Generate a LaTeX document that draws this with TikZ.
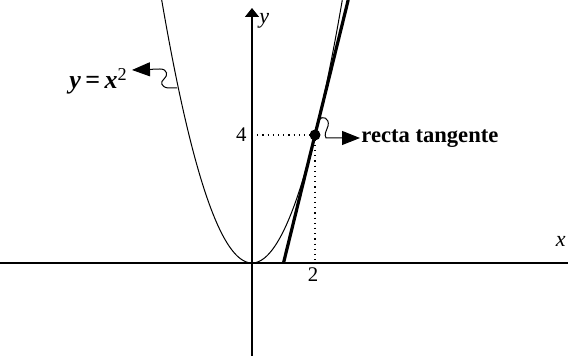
\documentclass[tikz,border=0pt]{standalone}
\usepackage{fontspec}
\setmainfont{Liberation Serif}
\usetikzlibrary{arrows.meta}
\begin{document}
\begin{tikzpicture}[x=0.5pt,y=-0.5pt,
  axisline/.style={line width=0.7pt},
  curveline/.style={line width=0.5pt},
  tangline/.style={line width=1.6pt},
  guide/.style={dotted,line width=0.6pt},
  curl/.style={line width=0.5pt,-{Triangle[length=9pt,width=7pt]}},
  ticklbl/.style={inner sep=0pt,font=\fontsize{10.4}{12}\selectfont},
  axlbl/.style={inner sep=0pt,font=\fontsize{11}{13}\selectfont\itshape},
  boldlbl/.style={inner sep=0pt,font=\fontsize{11.3}{13}\selectfont\bfseries}]
\useasboundingbox (0,0) rectangle (568,356);
% coordinates
\coordinate (xl) at (0,263);
\coordinate (xr) at (568,263);
\coordinate (yb) at (252,356);
\coordinate (yt) at (252,8);
\coordinate (P) at (315,135);
\coordinate (Y4) at (252,135);
\coordinate (X2) at (315,263);
\coordinate (T0) at (283.5,263);
\coordinate (T1) at (348.2,0);
\coordinate (c1) at (177,88);
\coordinate (tip1) at (132,70);
\coordinate (c2) at (319,120);
\coordinate (tip2) at (360,138);
% axes
\draw[axisline] (xl) -- (xr);
\draw[axisline,-{Triangle[length=4.5pt,width=7pt]}] (yb) -- (yt);
% parabola
\draw[curveline] plot[domain=-2.867:2.867,samples=120] ({252+31.5*\x},{263-32*\x*\x});
% tangent
\draw[tangline] (T0) -- (T1);
% guides
\draw[guide] (Y4) -- (P) -- (X2);
\fill (P) circle[radius=5.5];
% labels
\node[axlbl,anchor=base west] (ylab) at (259,24) {y};
\node[axlbl,anchor=base east] (xlab) at (566,247) {x};
\node[ticklbl,anchor=east] (four) at (247,135) {4};
\node[ticklbl,anchor=north] (two) at (313,267) {2};
\node[inner sep=0pt,anchor=base east,font=\fontsize{13}{15}\selectfont] (parlbl) at (128,89)
  {\textbf{\textit{y}}\,\textbf{=}\,\textbf{\textit{x}}\textsuperscript{2}};
\node[boldlbl,anchor=base west] (tanlbl) at (361,143) {recta tangente};
% curly arrows
\draw[curl] (c1) -- (168,88) .. controls (161,87) and (160,82) .. (164,79)
  .. controls (168,76) and (168,69) .. (160,69) -- (tip1);
\draw[curl] (c2) .. controls (322,115) and (330,118) .. (328,126)
  .. controls (326,132) and (324,134) .. (326,138) -- (tip2);
\end{tikzpicture}
\end{document}
